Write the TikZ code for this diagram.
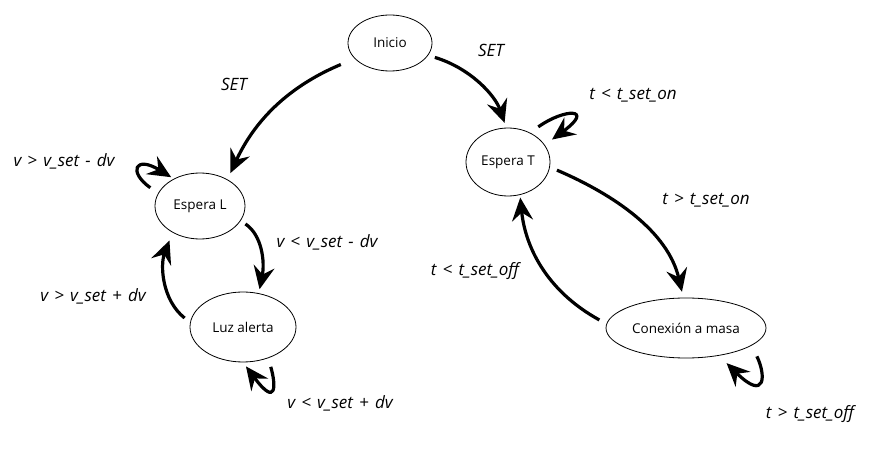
\documentclass[tikz,border=0pt]{standalone}
\usepackage{fontspec}
\setmainfont{Open Sans}
\usetikzlibrary{arrows.meta,shapes.geometric}
\newcommand\mylblfont{\fontsize{17}{19}\selectfont\itshape\spaceskip=0.36em\relax}
\tikzset{
  state/.style={ellipse,draw,line width=0.8pt,inner sep=0pt,font=\fontsize{13.5}{15}\selectfont},
  trans/.style={line width=3.2pt,-{Stealth[length=23pt,width=21pt,inset=8pt]}},
  lbl/.style={font=\mylblfont,inner sep=0pt}
}
\begin{document}
\begin{tikzpicture}[x=1pt,y=-1pt]
\useasboundingbox (0,0) rectangle (879,449);
\node[state,minimum width=84pt,minimum height=56pt] (ini) at (390,43) {Inicio};
\node[state,minimum width=84pt,minimum height=68pt] (eT) at (508,162) {Espera T};
\node[state,minimum width=90pt,minimum height=66pt] (eL) at (200,206) {Espera L};
\node[state,minimum width=106pt,minimum height=70pt] (luz) at (243,327) {Luz alerta};
\node[state,minimum width=160pt,minimum height=60pt] (con) at (686,328) {Conexión a masa};

% Inicio -> Espera L
\draw[trans,shorten <=15pt,shorten >=7pt] (ini.204.6) .. controls (275,92) and (248,135) .. (eL.44);
% Inicio -> Espera T
\draw[trans,shorten <=7pt,shorten >=5pt] (ini.342.7) .. controls (470,68) and (495,95) .. (eT.93);
% Espera T self loop
\draw[trans,shorten <=10pt,shorten >=9pt] (eT.53) .. controls (565,108) and (595,108) .. (eT.25);
% Espera T -> Conexion
\draw[trans,shorten <=7.6pt,shorten >=6pt] (eT.353) .. controls (615,195) and (668,232) .. (con.95);
% Conexion -> Espera T
\draw[trans,shorten <=8pt,shorten >=2.6pt] (con.177) .. controls (545,290) and (525,245) .. (eT.290.4);
% Conexion self loop
\draw[trans,shorten <=12pt,shorten >=10.6pt] (con.345.4) .. controls (766,375) and (766,402) .. (con.320.3);
% Espera L self loop
\draw[trans,shorten <=9.5pt,shorten >=3pt] (eL.163.6) .. controls (128,172) and (135,155) .. (eL.134);
% Espera L -> Luz
\draw[trans,shorten <=5.7pt,shorten >=4pt] (eL.340.8) .. controls (262,235) and (265,262) .. (luz.65.3);
% Luz -> Espera L
\draw[trans,shorten <=7pt,shorten >=8.4pt] (luz.175) .. controls (162,300) and (160,265) .. (eL.224);
% Luz self loop
\draw[trans,shorten <=9pt,shorten >=5pt] (luz.309.2) .. controls (276,385) and (277,408) .. (luz.270);

\node[lbl] (l1) at (234,84) {SET};
\node[lbl] (l2) at (491,50) {SET};
\node[lbl] (l3) at (633,95) {t < t\_set\_on};
\node[lbl] (l4) at (706,200) {t > t\_set\_on};
\node[lbl] (l5) at (475,271) {t < t\_set\_off};
\node[lbl] (l6) at (810,414) {t > t\_set\_off};
\node[lbl] (l7) at (64,161) {v > v\_set - dv};
\node[lbl] (l8) at (327,242) {v < v\_set - dv};
\node[lbl] (l9) at (93,296) {v > v\_set + dv};
\node[lbl] (l10) at (340,403) {v < v\_set + dv};
\end{tikzpicture}
\end{document}
